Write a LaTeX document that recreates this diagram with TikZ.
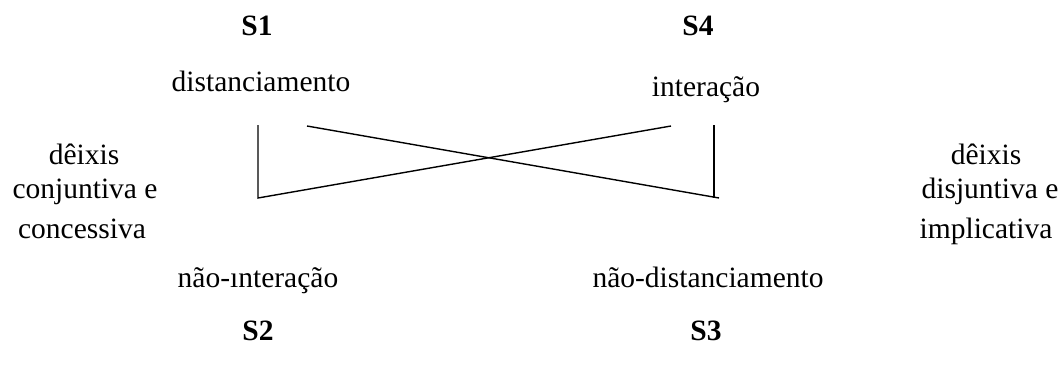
\documentclass[tikz,border=0pt]{standalone}
\usepackage{fontspec}
\setmainfont{Liberation Serif}
\begin{document}
\begin{tikzpicture}[x=1pt,y=-1pt,
  lbl/.style={anchor=base,inner sep=0pt,font=\fontsize{29.5}{34}\selectfont},
  sq/.style={lbl,font=\fontsize{29.5}{34}\selectfont\bfseries},
  edge/.style={line width=1.4pt,line join=miter}]
  \useasboundingbox (0,0) rectangle (1064,369);
  % corner labels of the square
  \node[sq] (s1) at (257,36) {S1};
  \node[sq] (s4) at (698,36) {S4};
  \node[sq] (s2) at (258,340) {S2};
  \node[sq] (s3) at (706,340) {S3};
  % terms
  \node[lbl] (dist) at (261,91) {distanciamento};
  \node[lbl] (inter) at (706,96) {interação};
  \node[lbl] (ninter) at (258,287) {não-ınteração};
  \node[lbl] (ndist) at (708,287) {não-distanciamento};
  % side labels
  \node[lbl] (dl1) at (84,164) {dêixis};
  \node[lbl] (dl2) at (85,198) {conjuntiva e};
  \node[lbl] (dl3) at (82,238) {concessiva};
  \node[lbl] (dr1) at (986,164) {dêixis};
  \node[lbl] (dr2) at (990,198) {disjuntiva e};
  \node[lbl] (dr3) at (986,238) {implicativa};
  % line end points
  \coordinate (a) at (258,125);
  \coordinate (b) at (258,198);
  \coordinate (c) at (671,126);
  \coordinate (d) at (307,126);
  \coordinate (e) at (719,198);
  \coordinate (f) at (714,125);
  \coordinate (g) at (714,198);
  \draw[edge] (a) -- (b) -- (c);
  \draw[edge] (d) -- (e);
  \draw[edge] (f) -- (g);
\end{tikzpicture}
\end{document}
